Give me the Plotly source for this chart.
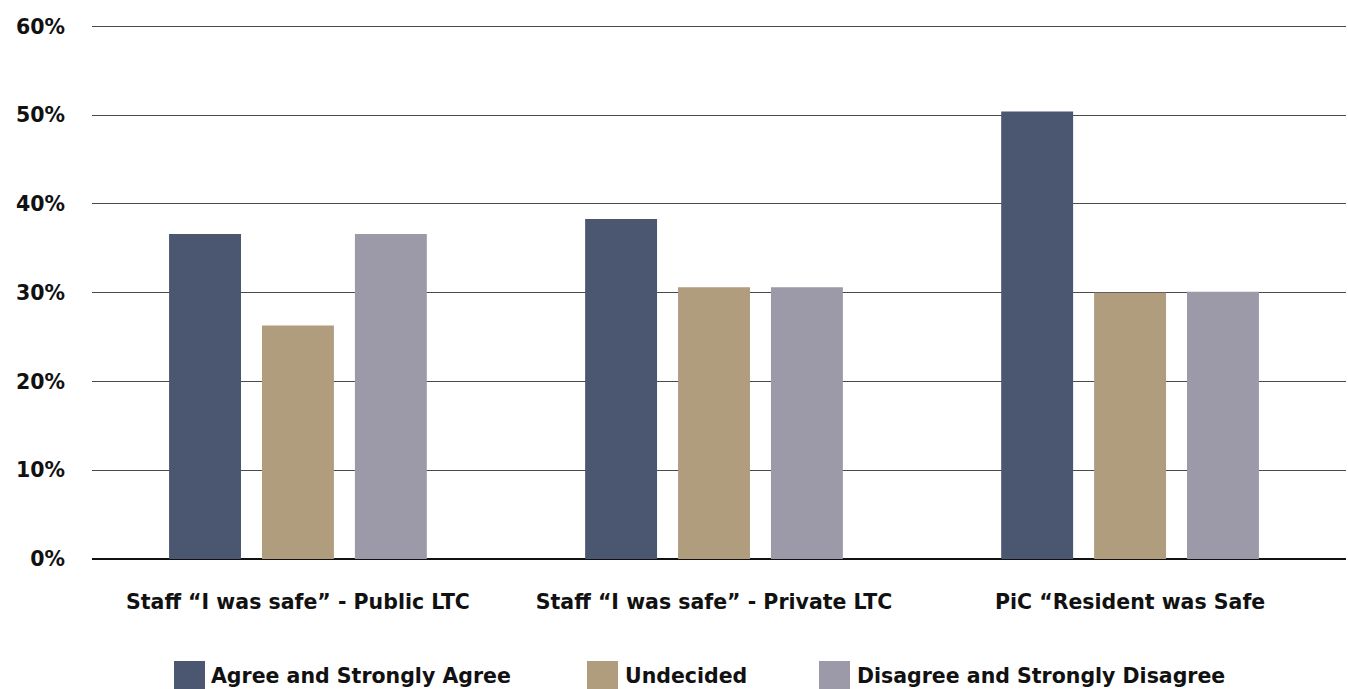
import plotly.graph_objects as go

categories = ["Staff \u201cI was safe\u201d - Public LTC",
              "Staff \u201cI was safe\u201d - Private LTC",
              "PiC \u201cResident was Safe"]
series_names = ["Agree and Strongly Agree", "Undecided", "Disagree and Strongly Disagree"]
agree = [36.6, 38.3, 50.4]
undecided = [26.3, 30.6, 30.0]
disagree = [36.6, 30.6, 30.1]
colors = ["#4b5670", "#af9d7d", "#9c9aa9"]
y_ticks = [0, 10, 20, 30, 40, 50, 60]
y_tick_labels = ["0%", "10%", "20%", "30%", "40%", "50%", "60%"]

FONT = "DejaVu Sans"
FS = 20.5
fig = go.Figure()
for name, vals, col in zip(series_names, [agree, undecided, disagree], colors):
    fig.add_trace(go.Bar(x=categories, y=vals, name=name, marker_color=col,
                         marker_line_width=0, showlegend=False))

# manual legend (large square swatches)
PX0, PW, PB, PH = 92, 1254, 559, 534
sq_x = [174, 587, 819]
txt_x = [211, 625, 857]
for name, col, sx, tx in zip(series_names, colors, sq_x, txt_x):
    fig.add_shape(type="rect", xref="paper", yref="paper",
                  x0=(sx - PX0) / PW, x1=(sx + 31 - PX0) / PW,
                  y0=-(690 - PB) / PH, y1=-(661 - PB) / PH,
                  fillcolor=col, line_width=0)
    fig.add_annotation(xref="paper", yref="paper", x=(tx - PX0) / PW,
                       y=-(676 - PB) / PH, xanchor="left", yanchor="middle",
                       text=name, showarrow=False, xshift=-2,
                       font=dict(family=FONT, size=FS, color="#111", weight="bold"))

fig.update_layout(
    width=1348, height=689,
    margin=dict(l=92, r=2, t=25, b=130),
    plot_bgcolor="white", paper_bgcolor="white",
    barmode="group", bargap=0.33, bargroupgap=0.226,
    font=dict(family=FONT, size=FS, color="#111", weight="bold"),
)
fig.update_xaxes(range=[-0.495, 2.519], showgrid=False, showline=False,
                 ticks="", tickfont=dict(family=FONT, size=FS, weight="bold"),
                 ticklabelstandoff=28)
fig.update_yaxes(range=[0, 60.15], tickvals=y_ticks, ticktext=y_tick_labels,
                 showgrid=True, gridcolor="#4a4a4a", gridwidth=1,
                 zeroline=True, zerolinecolor="#111", zerolinewidth=1.5,
                 showline=False, ticks="",
                 tickfont=dict(family=FONT, size=FS, weight="bold"),
                 ticklabelstandoff=26)

fig.write_html("out.html")
